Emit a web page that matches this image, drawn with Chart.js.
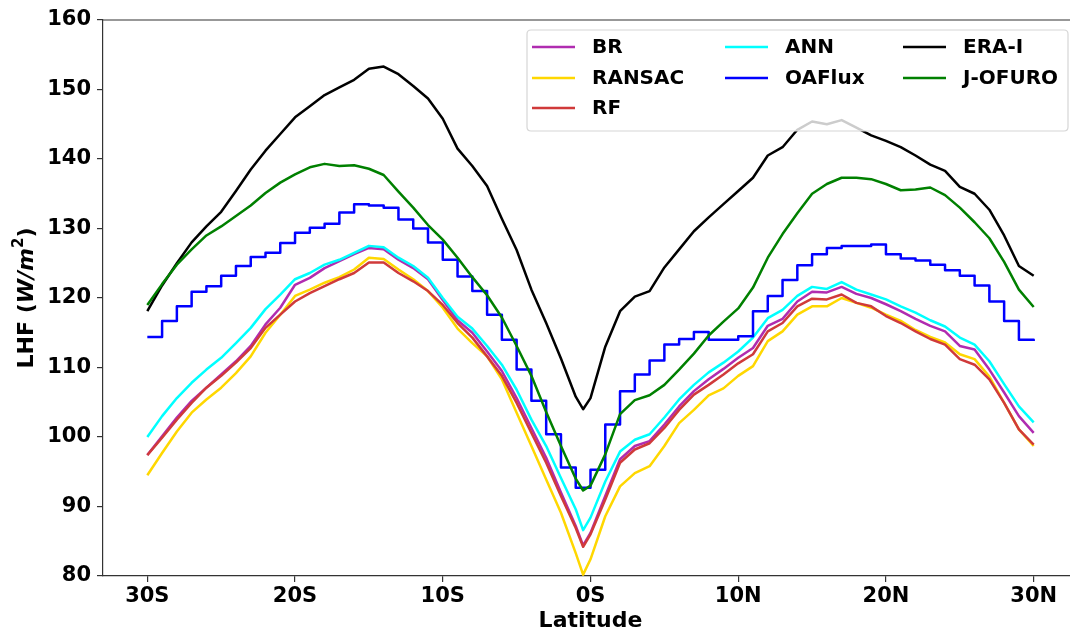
<!DOCTYPE html>
<html lang="en">

<head>
    <meta charset="UTF-8">
    <title>LHF by latitude</title>
    <style>
        html, body {
            margin: 0;
            padding: 0;
            overflow: hidden;
            background: #fff;
        }

        .chart-container {
            position: absolute;
            left: 0;
            top: 0;
            width: 1085px;
            height: 634px;
        }
    </style>
</head>

<body>
    <div class="chart-container">
        <canvas id="myChart"></canvas>
    </div>

    <script src="https://cdn.jsdelivr.net/npm/chart.js"></script>
    <script>
        // latitude grid (negative = south)
        const lats = [-30, -29, -28, -27, -26, -25, -24, -23, -22, -21, -20, -19, -18, -17, -16, -15,
            -14, -13, -12, -11, -10, -9, -8, -7, -6, -5, -4, -3, -2, -1, -0.5, 0,
            1, 2, 3, 4, 5, 6, 7, 8, 9, 10, 11, 12, 13, 14, 15,
            16, 17, 18, 19, 20, 21, 22, 23, 24, 25, 26, 27, 28, 29, 30];

        const brVals = [97.4, 100.1, 102.8, 105.2, 107.1, 109.0, 110.9, 113.1, 116.2, 118.6, 121.9, 122.9, 124.3, 125.3, 126.3, 127.2,
            127.0, 125.5, 124.3, 122.7, 119.7, 116.8, 115.0, 112.3, 109.5, 105.6, 101.3, 97.0, 92.0, 87.2, 84.4, 86.2,
            91.5, 96.8, 98.7, 99.4, 101.8, 104.4, 106.6, 108.3, 109.8, 111.4, 112.8, 116.0, 117.0, 119.5, 120.9,
            120.8, 121.6, 120.6, 120.0, 119.1, 118.1, 117.0, 116.0, 115.2, 113.1, 112.6, 109.7, 106.4, 103.0, 100.6];

        const ransacVals = [94.5, 97.7, 100.8, 103.5, 105.4, 107.1, 109.2, 111.6, 115.0, 117.6, 120.3, 121.2, 122.2, 123.0, 124.1, 125.8,
            125.6, 124.1, 122.7, 121.0, 118.6, 115.6, 113.5, 111.6, 108.3, 103.5, 98.7, 93.9, 89.1, 83.3, 80.2, 82.4,
            88.6, 92.9, 94.8, 95.8, 98.7, 102.0, 103.9, 106.0, 107.0, 108.8, 110.2, 113.8, 115.2, 117.6, 118.8,
            118.8, 120.0, 119.3, 118.6, 117.6, 116.7, 115.4, 114.4, 113.6, 111.9, 111.2, 108.7, 104.9, 101.1, 98.7];

        const rfVals = [97.4, 99.9, 102.5, 104.9, 107.1, 108.8, 110.7, 112.8, 115.7, 117.6, 119.5, 120.7, 121.7, 122.7, 123.6, 125.1,
            125.1, 123.6, 122.4, 121.0, 119.0, 116.4, 114.3, 111.6, 108.8, 104.9, 100.6, 96.3, 91.5, 86.9, 84.2, 86.0,
            91.0, 96.3, 98.2, 99.1, 101.3, 103.9, 106.1, 107.5, 109.0, 110.6, 111.9, 115.2, 116.4, 118.8, 119.9,
            119.8, 120.5, 119.3, 118.8, 117.4, 116.4, 115.2, 114.1, 113.3, 111.2, 110.4, 108.3, 104.9, 101.1, 98.9];

        const annVals = [100.0, 103.0, 105.6, 107.8, 109.7, 111.4, 113.5, 115.7, 118.4, 120.5, 122.7, 123.6, 124.8, 125.5, 126.5, 127.5,
            127.3, 125.8, 124.6, 122.9, 120.0, 117.3, 115.6, 113.1, 110.4, 106.8, 102.5, 98.7, 94.1, 89.6, 86.6, 88.4,
            93.6, 97.9, 99.6, 100.4, 102.8, 105.4, 107.5, 109.3, 110.7, 112.3, 114.3, 117.1, 118.3, 120.3, 121.6,
            121.3, 122.3, 121.2, 120.5, 119.8, 118.8, 117.9, 116.8, 115.9, 114.3, 113.3, 110.9, 107.6, 104.4, 102.1];

        const eraVals = [118.1, 121.8, 125.0, 128.0, 130.3, 132.4, 135.4, 138.5, 141.2, 143.6, 146.0, 147.6, 149.2, 150.3, 151.4, 153.0,
            153.3, 152.2, 150.5, 148.7, 145.8, 141.5, 139.0, 136.1, 131.4, 126.9, 121.2, 116.4, 111.3, 105.8, 104.0, 105.6,
            113.0, 118.1, 120.2, 121.0, 124.4, 127.0, 129.6, 131.6, 133.5, 135.4, 137.3, 140.5, 141.7, 144.2, 145.4,
            145.0, 145.6, 144.5, 143.4, 142.6, 141.7, 140.5, 139.2, 138.3, 136.0, 135.0, 132.7, 129.0, 124.6, 123.2];

        const jofuroVals = [119.0, 122.0, 124.8, 127.0, 129.0, 130.3, 131.8, 133.3, 135.1, 136.6, 137.8, 138.8, 139.3, 139.0, 139.1, 138.6,
            137.7, 135.3, 133.0, 130.5, 128.4, 125.8, 123.0, 120.4, 117.2, 113.1, 108.8, 103.6, 98.7, 94.0, 92.3, 93.0,
            97.5, 103.3, 105.3, 106.0, 107.5, 109.7, 112.0, 114.6, 116.6, 118.5, 121.5, 125.8, 129.2, 132.2, 135.0,
            136.4, 137.3, 137.3, 137.1, 136.4, 135.5, 135.6, 135.9, 134.8, 133.0, 130.9, 128.6, 125.2, 121.2, 118.7];

        // OAFlux is on a 1 degree grid, each value holds until the next latitude
        const oaLats = [-30, -29, -28, -27, -26, -25, -24, -23, -22, -21, -20, -19, -18, -17, -16, -15,
            -14, -13, -12, -11, -10, -9, -8, -7, -6, -5, -4, -3, -2, -1, 0,
            1, 2, 3, 4, 5, 6, 7, 8, 9, 10, 11, 12, 13, 14, 15,
            16, 17, 18, 19, 20, 21, 22, 23, 24, 25, 26, 27, 28, 29, 30];
        const oafluxVals = [114.4, 116.7, 118.8, 120.9, 121.7, 123.2, 124.6, 125.9, 126.5, 127.9, 129.4, 130.1, 130.7, 132.3, 133.5, 133.3,
            133.0, 131.3, 130.0, 128.0, 125.5, 123.1, 121.0, 117.6, 114.0, 109.7, 105.2, 100.4, 95.6, 92.7, 95.3,
            101.8, 106.6, 109.0, 111.0, 113.3, 114.1, 115.1, 114.0, 114.0, 114.5, 118.1, 120.3, 122.6, 124.7, 126.3,
            127.2, 127.5, 127.5, 127.7, 126.3, 125.7, 125.4, 124.8, 124.0, 123.2, 121.8, 119.5, 116.7, 114.0, 113.8];

        const xTicks = [-30, -20, -10, 0, 10, 20, 30];
        const xTickLabels = ['30S', '20S', '10S', '0S', '10N', '20N', '30N'];
        const yTicks = [80, 90, 100, 110, 120, 130, 140, 150, 160];

        const FONT = "'DejaVu Sans', Arial, sans-serif";

        function pts(xs, ys) {
            return xs.map((x, i) => ({ x: x, y: ys[i] }));
        }

        // plotted in this order (later ones on top)
        const series = [
            { label: 'BR', xs: lats, ys: brVals, color: '#b02cb0' },
            { label: 'RANSAC', xs: lats, ys: ransacVals, color: '#ffd700' },
            { label: 'RF', xs: lats, ys: rfVals, color: '#d03a3a' },
            { label: 'ANN', xs: lats, ys: annVals, color: '#00ffff' },
            { label: 'OAFlux', xs: oaLats, ys: oafluxVals, color: '#0000ff', stepped: true },
            { label: 'ERA-I', xs: lats, ys: eraVals, color: '#000000' },
            { label: 'J-OFURO', xs: lats, ys: jofuroVals, color: '#008000' }
        ];

        // box legend like matplotlib: 3 columns filled top-down (3, 2, 2 entries)
        const legendSlots = [[0, 0], [0, 1], [0, 2], [1, 0], [1, 1], [2, 0], [2, 1]];

        const boxLegend = {
            id: 'boxLegend',
            afterDatasetsDraw(chart) {
                const ctx = chart.ctx;
                const bx = 527, by = 30, bw = 541, bh = 101, r = 4;
                ctx.save();
                ctx.beginPath();
                ctx.moveTo(bx + r, by);
                ctx.lineTo(bx + bw - r, by);
                ctx.quadraticCurveTo(bx + bw, by, bx + bw, by + r);
                ctx.lineTo(bx + bw, by + bh - r);
                ctx.quadraticCurveTo(bx + bw, by + bh, bx + bw - r, by + bh);
                ctx.lineTo(bx + r, by + bh);
                ctx.quadraticCurveTo(bx, by + bh, bx, by + bh - r);
                ctx.lineTo(bx, by + r);
                ctx.quadraticCurveTo(bx, by, bx + r, by);
                ctx.closePath();
                ctx.fillStyle = 'rgba(255,255,255,0.8)';
                ctx.fill();
                ctx.strokeStyle = '#d6d6d6';
                ctx.lineWidth = 1.2;
                ctx.stroke();

                const colX = [532, 725, 903];
                const rowY = [47, 78, 108];
                ctx.font = 'bold 20px ' + FONT;
                ctx.textBaseline = 'middle';
                ctx.textAlign = 'left';
                chart.data.datasets.forEach((ds, i) => {
                    const slot = legendSlots[i];
                    const x = colX[slot[0]], y = rowY[slot[1]];
                    ctx.strokeStyle = ds.borderColor;
                    ctx.lineWidth = 2.5;
                    ctx.beginPath();
                    ctx.moveTo(x, y);
                    ctx.lineTo(x + 43, y);
                    ctx.stroke();
                    ctx.fillStyle = '#000';
                    ctx.fillText(ds.label, x + 60, y + 1);
                });
                ctx.restore();
            },
            afterDraw(chart) {
                const ctx = chart.ctx;
                const a = chart.chartArea;
                ctx.save();
                // top frame line
                ctx.strokeStyle = '#333';
                ctx.lineWidth = 1.2;
                ctx.beginPath();
                ctx.moveTo(a.left, a.top);
                ctx.lineTo(a.right, a.top);
                ctx.stroke();

                // y axis title with italic units and superscript
                const parts = [
                    { t: 'LHF (', f: 'bold 22px ' + FONT, dy: 0 },
                    { t: 'W/m', f: 'italic bold 22px ' + FONT, dy: 0 },
                    { t: '2', f: 'bold 15px ' + FONT, dy: -8 },
                    { t: ')', f: 'bold 22px ' + FONT, dy: 0 }
                ];
                let total = 0;
                parts.forEach(p => { ctx.font = p.f; p.w = ctx.measureText(p.t).width; total += p.w; });
                ctx.translate(26, (a.top + a.bottom) / 2);
                ctx.rotate(-Math.PI / 2);
                ctx.fillStyle = '#000';
                ctx.textBaseline = 'middle';
                ctx.textAlign = 'left';
                let px = -total / 2;
                parts.forEach(p => {
                    ctx.font = p.f;
                    ctx.fillText(p.t, px, p.dy + 1);
                    px += p.w;
                });
                ctx.restore();
            }
        };

        const ctx = document.getElementById('myChart').getContext('2d');
        const n = series.length;
        const myChart = new Chart(ctx, {
            type: 'line',
            data: {
                datasets: series.map((s, i) => ({
                    label: s.label,
                    data: pts(s.xs, s.ys),
                    borderColor: s.color,
                    backgroundColor: s.color,
                    borderWidth: 2.5,
                    borderJoinStyle: 'round',
                    pointRadius: 0,
                    tension: 0,
                    fill: false,
                    stepped: s.stepped || false,
                    order: n - i
                }))
            },
            options: {
                responsive: true,
                maintainAspectRatio: false,
                animation: false,
                devicePixelRatio: 1,
                layout: { padding: { left: 0, top: 20, right: 7, bottom: 0 } },
                plugins: {
                    legend: { display: false },
                    tooltip: { enabled: false }
                },
                scales: {
                    x: {
                        type: 'linear',
                        min: -33,
                        max: 33,
                        afterBuildTicks: s => { s.ticks = xTicks.map(v => ({ value: v })); },
                        afterFit: s => { s.height = 58; },
                        grid: { drawOnChartArea: false, drawTicks: true, tickLength: 6, color: '#333', lineWidth: 1.2 },
                        border: { display: true, color: '#333', width: 1.2 },
                        ticks: {
                            callback: (v, i) => xTickLabels[i],
                            font: { family: FONT, size: 21, weight: 'bold' },
                            color: '#000',
                            padding: 2,
                            maxRotation: 0,
                            autoSkip: false
                        },
                        title: {
                            display: true,
                            text: 'Latitude',
                            font: { family: FONT, size: 22, weight: 'bold' },
                            color: '#000',
                            padding: { top: 0, bottom: 0 }
                        }
                    },
                    y: {
                        min: 80,
                        max: 160,
                        afterBuildTicks: s => { s.ticks = yTicks.map(v => ({ value: v })); },
                        afterFit: s => { s.width = 103; },
                        grid: { drawOnChartArea: false, drawTicks: true, tickLength: 6, color: '#333', lineWidth: 1.2 },
                        border: { display: true, color: '#333', width: 1.2 },
                        ticks: {
                            font: { family: FONT, size: 21, weight: 'bold' },
                            color: '#000',
                            padding: 6
                        }
                    }
                }
            },
            plugins: [boxLegend]
        });
    </script>
</body>

</html>
